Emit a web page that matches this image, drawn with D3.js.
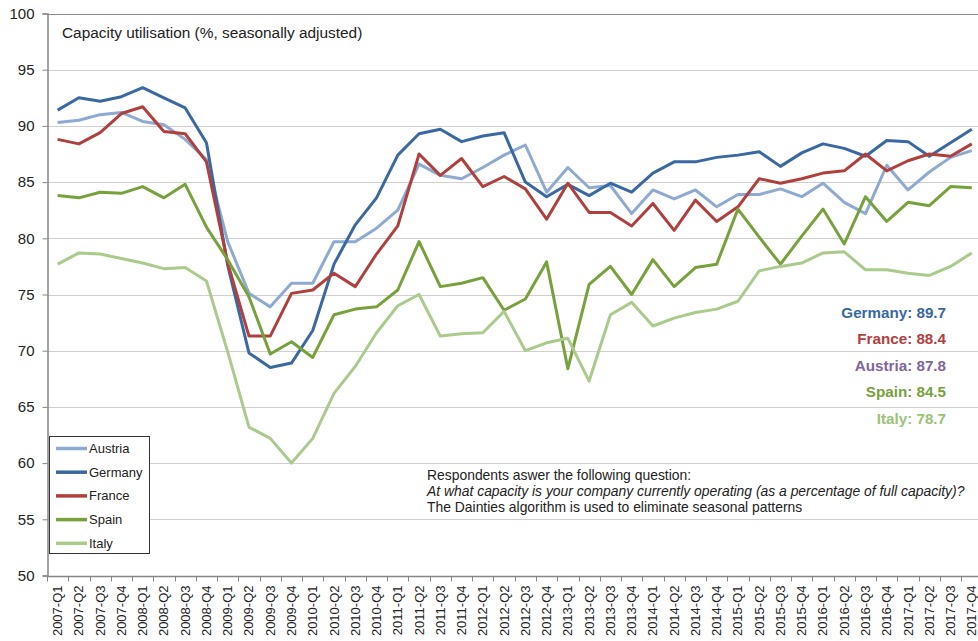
<!DOCTYPE html>
<html lang="en">
<head>
<meta charset="utf-8">
<title>Capacity utilisation</title>
<style>
	body { margin: 0; background: #fff; font-family: "Liberation Sans", Arial, sans-serif; }
	svg { display: block; }
	.grid line { stroke: #d0d0d0; stroke-width: 1; }
	.axis path, .axis line { stroke: #868686; }
	.axis text { fill: #222; font-family: "Liberation Sans", Arial, sans-serif; }
	.series { fill: none; stroke-width: 3; stroke-linejoin: round; }
</style>
</head>
<body>
<svg></svg>
<script src="https://d3js.org/d3.v7.min.js"></script>
<script>
	// quarters 2007-Q1 .. 2017-Q4
	var quarters = [];
	for (var yr = 2007; yr <= 2017; yr++) {
		for (var q = 1; q <= 4; q++) quarters.push(yr + "-Q" + q);
	}

	var austria = [90.3, 90.5, 91.0, 91.2, 90.4, 90.1, 88.8, 87.0, 79.7, 75.1, 73.9, 76.0,
		76.0, 79.7, 79.7, 80.9, 82.5, 86.6, 85.6, 85.3, 86.3, 87.4, 88.3, 84.1,
		86.3, 84.5, 84.7, 82.2, 84.3, 83.5, 84.3, 82.8, 83.9, 83.9, 84.4, 83.7,
		84.9, 83.2, 82.2, 86.5, 84.3, 85.9, 87.2, 87.8];
	var germany = [91.4, 92.5, 92.2, 92.6, 93.4, 92.5, 91.6, 88.5, 77.6, 69.8, 68.5, 68.9,
		71.8, 77.7, 81.2, 83.6, 87.4, 89.3, 89.7, 88.6, 89.1, 89.4, 85.0, 83.7,
		84.8, 83.8, 84.9, 84.1, 85.8, 86.8, 86.8, 87.2, 87.4, 87.7, 86.4, 87.6,
		88.4, 88.0, 87.3, 88.7, 88.6, 87.3, 88.5, 89.7];
	var france = [88.8, 88.4, 89.4, 91.1, 91.7, 89.5, 89.3, 86.8, 77.8, 71.3, 71.3, 75.1,
		75.4, 76.9, 75.7, 78.6, 81.1, 87.5, 85.6, 87.1, 84.6, 85.5, 84.4, 81.7,
		84.9, 82.3, 82.3, 81.1, 83.1, 80.7, 83.4, 81.5, 82.8, 85.3, 84.9, 85.3,
		85.8, 86.0, 87.5, 86.0, 86.9, 87.5, 87.3, 88.4];
	var spain = [83.8, 83.6, 84.1, 84.0, 84.6, 83.6, 84.8, 81.0, 78.1, 74.8, 69.7, 70.8,
		69.4, 73.2, 73.7, 73.9, 75.4, 79.7, 75.7, 76.0, 76.5, 73.6, 74.6, 77.9,
		68.4, 75.9, 77.5, 75.0, 78.1, 75.7, 77.4, 77.7, 82.6, 80.1, 77.7, 80.2,
		82.6, 79.5, 83.7, 81.5, 83.2, 82.9, 84.6, 84.5];
	var italy = [77.7, 78.7, 78.6, 78.2, 77.8, 77.3, 77.4, 76.2, 69.9, 63.2, 62.2, 60.0,
		62.2, 66.2, 68.6, 71.6, 74.0, 75.0, 71.3, 71.5, 71.6, 73.5, 70.0, 70.7,
		71.1, 67.3, 73.2, 74.3, 72.2, 72.9, 73.4, 73.7, 74.4, 77.1, 77.5, 77.8,
		78.7, 78.8, 77.2, 77.2, 76.9, 76.7, 77.5, 78.7];

	var names = ["Austria", "Germany", "France", "Spain", "Italy"];
	var colors = ["#8eaad3", "#3a68a2", "#b0403e", "#77a13b", "#aacb8c"];
	var seriesValues = [austria, germany, france, spain, italy];

	var yTicks = [50, 55, 60, 65, 70, 75, 80, 85, 90, 95, 100];

	// last-value labels, top to bottom
	var endNames = ["Germany", "France", "Austria", "Spain", "Italy"];
	var endColors = ["#3a68a2", "#b0403e", "#8064a2", "#77a13b", "#9bc278"];

	var noteLines = [
		{ text: "Respondents aswer the following question:", italic: false },
		{ text: "At what capacity is your company currently operating (as a percentage of full capacity)?", italic: true },
		{ text: "The Dainties algorithm is used to eliminate seasonal patterns", italic: false }
	];

	(function() {

		var width = 978, height = 641;
		var plotLeft = 47, plotTop = 13.5, plotBottom = 575.5;
		var step = 21.26;

		var svg = d3.select("svg").attr("width", width).attr("height", height);

		var x = d3.scaleBand()
			.domain(quarters)
			.range([plotLeft, plotLeft + quarters.length * step])
			.padding(0);

		var y = d3.scaleLinear().domain([50, 100]).range([plotBottom, plotTop]);

		function cx(d) { return x(d) + x.bandwidth() / 2; }

		// horizontal gridlines
		svg.append("g")
			.attr("class", "grid")
			.selectAll("line")
			.data(yTicks.filter(function(t) { return t > 50; }))
			.enter().append("line")
			.attr("x1", plotLeft)
			.attr("x2", width)
			.attr("y1", function(d) { return Math.round(y(d)) + 0.5; })
			.attr("y2", function(d) { return Math.round(y(d)) + 0.5; })
			.style("stroke", function(d) { return d === 100 ? "#8c8c8c" : null; });

		// y axis
		var yAxis = svg.append("g")
			.attr("class", "axis")
			.attr("transform", "translate(" + (plotLeft + 0.5) + ",0)")
			.call(d3.axisLeft(y).tickValues(yTicks).tickSize(5).tickPadding(8));
		yAxis.selectAll("text").style("font-size", "15px");
		yAxis.select(".domain").attr("stroke-width", 1.5);

		// x axis: labels at category centres, ticks at boundaries
		var xAxis = svg.append("g")
			.attr("class", "axis")
			.attr("transform", "translate(0," + (Math.round(plotBottom) + 0.5) + ")");
		xAxis.append("line")
			.attr("x1", plotLeft).attr("x2", width)
			.attr("y1", 0).attr("y2", 0)
			.attr("stroke-width", 1.5);
		xAxis.selectAll(".qtick")
			.data(quarters)
			.enter().append("line")
			.attr("class", "qtick")
			.attr("x1", function(d) { return Math.round(x(d)) + 0.5; })
			.attr("x2", function(d) { return Math.round(x(d)) + 0.5; })
			.attr("y1", 0).attr("y2", 5);
		xAxis.selectAll(".qlabel")
			.data(quarters)
			.enter().append("text")
			.attr("class", "qlabel")
			.attr("transform", function(d) { return "translate(" + (cx(d) + 4.5) + ",9) rotate(-90)"; })
			.attr("text-anchor", "end")
			.style("font-size", "13px")
			.text(function(d) { return d; });

		// lines
		var line = d3.line()
			.x(function(d, i) { return cx(quarters[i]); })
			.y(function(d) { return y(d); });

		svg.append("g")
			.selectAll("path")
			.data(seriesValues)
			.enter().append("path")
			.attr("class", "series")
			.attr("stroke", function(d, i) { return colors[i]; })
			.attr("d", line);

		// chart title
		svg.append("text")
			.attr("x", 62).attr("y", 38)
			.style("font-size", "15.4px")
			.attr("fill", "#222")
			.text("Capacity utilisation (%, seasonally adjusted)");

		// legend
		var legend = svg.append("g");
		legend.append("rect")
			.attr("x", 49.5).attr("y", 436.5)
			.attr("width", 100).attr("height", 117)
			.attr("fill", "#fff")
			.attr("stroke", "#333");
		var items = legend.selectAll("g.item")
			.data(names)
			.enter().append("g")
			.attr("class", "item")
			.attr("transform", function(d, i) { return "translate(0," + (448.5 + i * 23.7) + ")"; });
		items.append("line")
			.attr("x1", 56).attr("x2", 87)
			.attr("y1", 0).attr("y2", 0)
			.attr("stroke-width", 3.5)
			.attr("stroke", function(d, i) { return colors[i]; });
		items.append("text")
			.attr("x", 89).attr("y", 4.5)
			.style("font-size", "13px")
			.attr("fill", "#222")
			.text(function(d) { return d; });

		// latest values
		var lastValue = {};
		names.forEach(function(n, i) { lastValue[n] = seriesValues[i][seriesValues[i].length - 1]; });
		svg.append("g")
			.selectAll("text")
			.data(endNames)
			.enter().append("text")
			.attr("x", 946)
			.attr("y", function(d, i) { return 318 + i * 26.4; })
			.attr("text-anchor", "end")
			.style("font-size", "15.2px")
			.style("font-weight", "bold")
			.attr("fill", function(d, i) { return endColors[i]; })
			.text(function(d) { return d + ": " + d3.format(".1f")(lastValue[d]); });

		// note
		svg.append("g")
			.selectAll("text")
			.data(noteLines)
			.enter().append("text")
			.attr("x", 427)
			.attr("y", function(d, i) { return 480 + i * 16; })
			.style("font-size", "13.9px")
			.style("font-style", function(d) { return d.italic ? "italic" : "normal"; })
			.attr("fill", "#222")
			.text(function(d) { return d.text; });

	})();
</script>
</body>
</html>
